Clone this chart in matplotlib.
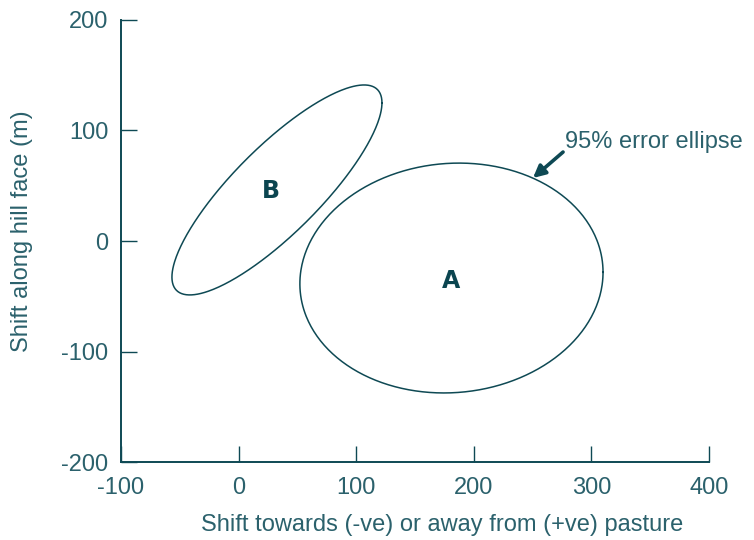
import numpy as np
import matplotlib
matplotlib.use("Agg")
import matplotlib.pyplot as plt

plt.rcParams["font.family"] = ["Liberation Sans", "DejaVu Sans"]
plt.rcParams["axes.unicode_minus"] = False

# error ellipses: centre, half-extent in x / y, correlation
names = ["A", "B"]
cx = [181.0, 32.6]
cy = [-33.5, 46.2]
half_x = [128.9, 89.3]
half_y = [104.0, 95.0]
corr = [0.05, 0.83]
label_x = [180.6, 27.6]
label_y = [-36.2, 45.5]

x_ticks = [-100, 0, 100, 200, 300, 400]
y_ticks = [-200, -100, 0, 100, 200]

line_col = "#0e4954"
text_col = "#2b616c"
fs = 17

fig = plt.figure(figsize=(7.54, 5.40), dpi=100)
ax = fig.add_axes([0.1605, 0.1444, 0.7798, 0.8186])

t = np.linspace(0, 2 * np.pi, 400)
for x0, y0, hx, hy, r in zip(cx, cy, half_x, half_y, corr):
    d = np.arccos(r)
    ax.plot(x0 + hx * np.cos(t), y0 + hy * np.cos(t - d), color=line_col, lw=1.1)

for n, lx, ly in zip(names, label_x, label_y):
    ax.text(lx, ly, n, ha="center", va="center", fontsize=17,
            fontweight="bold", color="#0b4550", family="DejaVu Sans")

ax.annotate("", xy=(250.3, 57), xytext=(275.9, 80.5),
            arrowprops=dict(arrowstyle="-|>", color=line_col, lw=2.6,
                            mutation_scale=18, shrinkA=0, shrinkB=0))
ax.text(277.6, 84.2, "95% error ellipse", ha="left", va="baseline",
        fontsize=fs, color=text_col)

ax.set_xlim(-100, 400)
ax.set_ylim(-200, 200)
ax.set_xticks(x_ticks)
ax.set_yticks(y_ticks)
for s in ["top", "right"]:
    ax.spines[s].set_visible(False)
for s in ["left", "bottom"]:
    ax.spines[s].set_color(line_col)
    ax.spines[s].set_linewidth(1.4)
ax.tick_params(direction="in", length=11.5, width=1.0, color=line_col,
               labelsize=fs, labelcolor=text_col)
ax.tick_params(axis="x", pad=11)
ax.tick_params(axis="y", pad=9)

ax.set_xlabel("Shift towards (-ve) or away from (+ve) pasture",
              fontsize=fs, color=text_col)
ax.set_ylabel("Shift along hill face (m)", fontsize=fs, color=text_col)
ax.xaxis.set_label_coords(0.546, -0.118)
ax.yaxis.set_label_coords(-0.150, 0.5226)

fig.savefig("out.png", dpi=100)
